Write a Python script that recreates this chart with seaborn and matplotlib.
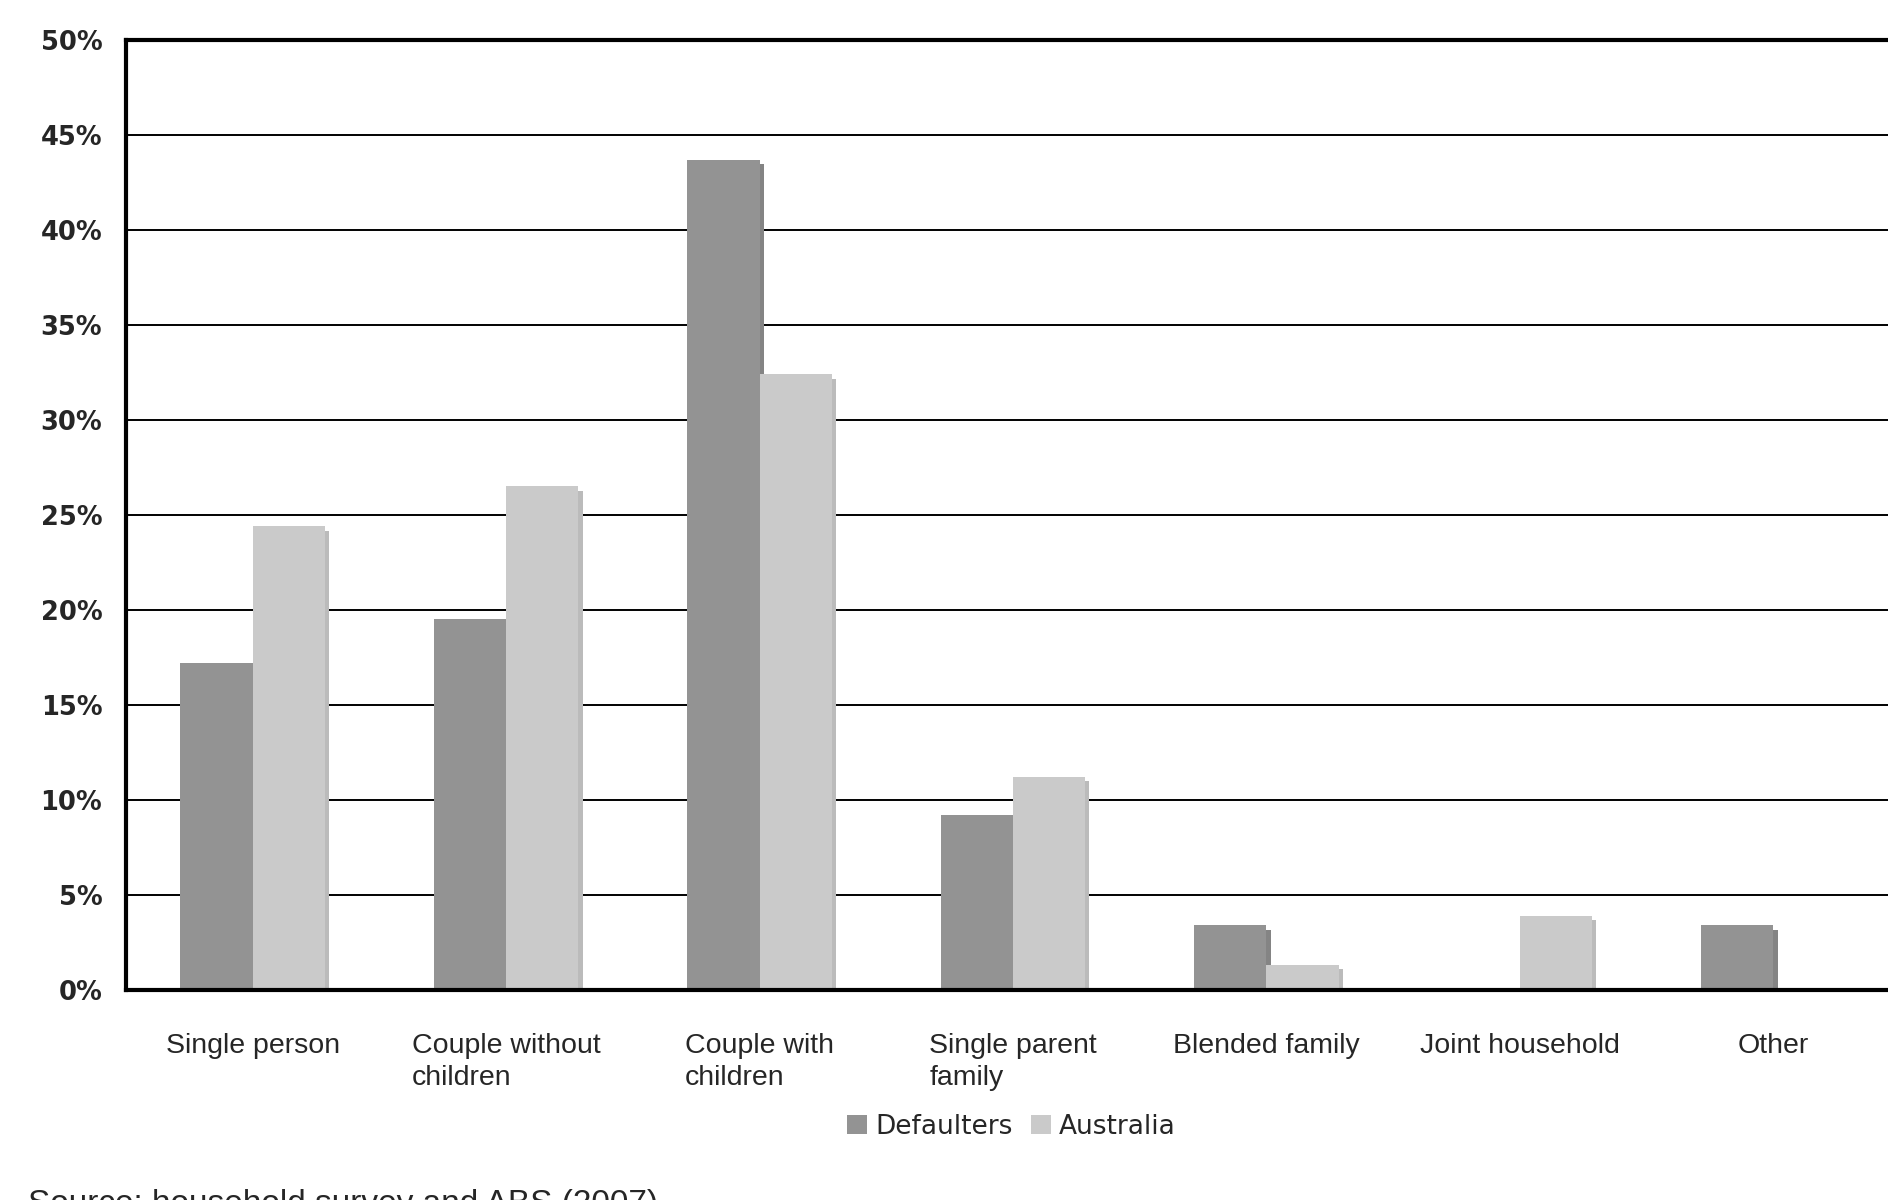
#! /usr/bin/env python
"""
Household type of defaulters compared with all Australian households
"""

import pandas as pd
import seaborn as sns
import matplotlib.pyplot as plt
from matplotlib import patheffects
from matplotlib.patches import Patch
from matplotlib.ticker import FixedLocator, FuncFormatter

CATEGORIES = [
    "Single person",
    "Couple without\nchildren",
    "Couple with\nchildren",
    "Single parent\nfamily",
    "Blended family",
    "Joint household",
    "Other",
]
DEFAULTERS = [17.2, 19.5, 43.7, 9.2, 3.4, 0.0, 3.4]
AUSTRALIA = [24.4, 26.5, 32.4, 11.2, 1.3, 3.9, 0.0]
SERIES = ["Defaulters", "Australia"]
COLORS = ["#939393", "#cacaca"]
SOURCE = "Source: household survey and ABS (2007)"


def build_frame() -> pd.DataFrame:
    rows = []
    for cat, d, a in zip(CATEGORIES, DEFAULTERS, AUSTRALIA):
        rows.append({"Household": cat, "Group": SERIES[0], "Share": d})
        rows.append({"Household": cat, "Group": SERIES[1], "Share": a})
    return pd.DataFrame(rows)


def run() -> None:
    df = build_frame()
    sns.set_style("white")
    plt.rcParams["font.family"] = ["DejaVu Sans"]

    fig = plt.figure(figsize=(18.88, 12), dpi=100)
    ax = fig.add_axes([0.0667, 0.175, 0.9397, 0.7917])

    sns.barplot(
        data=df, x="Household", y="Share", hue="Group",
        palette=COLORS, width=0.57, gap=0, saturation=1,
        linewidth=0, ax=ax, legend=False,
    )
    for patch in ax.patches:
        fc = patch.get_facecolor()
        shade = tuple(max(c - 0.06, 0) for c in fc[:3])
        patch.set_path_effects([
            patheffects.SimplePatchShadow(offset=(3, -3), shadow_rgbFace=shade, alpha=1),
            patheffects.Normal(),
        ])

    ax.set_ylim(0, 50)
    ax.set_xlim(-0.5, len(CATEGORIES) - 0.5)
    ax.set_yticks(range(0, 51, 5))
    ax.yaxis.set_major_formatter(FuncFormatter(lambda v, _: f"{v:.0f}%"))
    ax.grid(axis="y", color="black", linewidth=1.4)
    ax.set_axisbelow(True)

    # labels at bar centres, tick marks at category boundaries
    ax.xaxis.set_minor_locator(FixedLocator([i - 0.5 for i in range(len(CATEGORIES) + 1)]))
    ax.tick_params(axis="x", which="major", length=0, pad=31)
    ax.tick_params(axis="x", which="minor", length=7, width=2.5, color="black", direction="out")
    ax.tick_params(axis="y", length=7, width=1.3, color="black", direction="out", pad=10)
    for lbl in ax.get_xticklabels():
        lbl.set_fontfamily("Liberation Sans")
        lbl.set_fontsize(20.5)
        lbl.set_multialignment("left")
        lbl.set_linespacing(1.3)
    for lbl in ax.get_yticklabels():
        lbl.set_fontweight("bold")
        lbl.set_fontsize(18.5)

    ax.set_xlabel("")
    ax.set_ylabel("")
    for side in ["left", "bottom", "top"]:
        ax.spines[side].set_visible(True)
        ax.spines[side].set_color("black")
        ax.spines[side].set_linewidth(3)
    ax.spines["right"].set_visible(False)

    handles = [Patch(facecolor=c, edgecolor="none") for c in COLORS]
    fig.legend(
        handles, SERIES, loc="center", bbox_to_anchor=(0.5357, 0.061),
        ncol=2, frameon=False, fontsize=19, handlelength=0.75, handleheight=0.75,
        handletextpad=0.3, columnspacing=0.7,
    )

    fig.text(0.015, 0.009, SOURCE, fontsize=24, fontfamily="Liberation Sans", va="top")

    plt.savefig("out.png", dpi=100)


if __name__ == "__main__":
    run()
